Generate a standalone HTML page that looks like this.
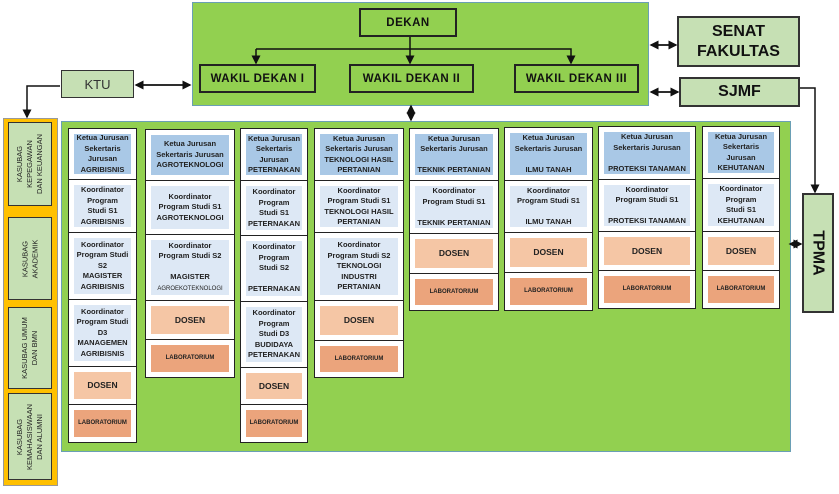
<!DOCTYPE html>
<html><head><meta charset="utf-8"><style>
*{margin:0;padding:0;box-sizing:border-box}
body{width:839px;height:494px;background:#fff;position:relative;overflow:hidden;font-family:"Liberation Sans",sans-serif}
div{position:absolute}
.g{background:#92d050;border:1px solid #6a9fb5}
.lg{background:#c6e0b4;border:2px solid #333}
.bx{border:2px solid #222;background:#92d050;font-weight:bold;font-size:11.5px;letter-spacing:.5px;display:flex;align-items:center;justify-content:center;color:#111}
.c{background:#fff;border:1.5px solid #222}
.in{position:absolute;left:5px;right:5px;top:5px;bottom:5px;display:flex;align-items:center;justify-content:center;text-align:center;font-size:7.5px;line-height:10.5px;color:#222;font-weight:bold}
.in p{white-space:nowrap}
.k{background:#a9c8e6}.p{background:#dde8f5}.d{background:#f5c6a5;font-size:8.5px}.l{background:#eba47c;font-size:6px}
.ks{background:#c6e0b4;border:1.5px solid #333;display:flex;align-items:center;justify-content:center}
.ks span{transform:rotate(-90deg);white-space:nowrap;font-size:7.5px;text-align:center;line-height:10px;color:#222}
</style></head><body>
<div class="g" style="left:192px;top:2px;width:457px;height:104px"></div>
<div class="bx" style="left:359px;top:8px;width:98px;height:29px">DEKAN</div>
<div class="bx" style="left:199px;top:64px;width:117px;height:29px">WAKIL DEKAN I</div>
<div class="bx" style="left:349px;top:64px;width:125px;height:29px">WAKIL DEKAN II</div>
<div class="bx" style="left:514px;top:64px;width:125px;height:29px">WAKIL DEKAN III</div>
<div class="lg" style="left:677px;top:16px;width:123px;height:51px;display:flex;align-items:center;justify-content:center;text-align:center;font-weight:bold;font-size:16px;line-height:20px;color:#111">SENAT<br>FAKULTAS</div>
<div class="lg" style="left:679px;top:77px;width:121px;height:30px;display:flex;align-items:center;justify-content:center;font-weight:bold;font-size:16px;color:#111">SJMF</div>
<div class="lg" style="left:61px;top:70px;width:73px;height:28px;display:flex;align-items:center;justify-content:center;font-size:13px;color:#333;border-width:1.5px">KTU</div>
<div class="lg" style="left:802px;top:193px;width:32px;height:120px;display:flex;align-items:center;justify-content:center"><span style="transform:rotate(90deg);font-weight:bold;font-size:16px;white-space:nowrap;color:#111">TPMA</span></div>
<div style="left:3px;top:118px;width:55px;height:368px;background:#ffc000;border:1px solid #999"></div>
<div class="ks" style="left:8px;top:122px;width:44px;height:84px"><span>KASUBAG<br>KEPEGAWAN<br>DAN KEUANGAN</span></div>
<div class="ks" style="left:8px;top:217px;width:44px;height:83px"><span>KASUBAG<br>AKADEMIK</span></div>
<div class="ks" style="left:8px;top:307px;width:44px;height:82px"><span>KASUBAG UMUM<br>DAN BMN</span></div>
<div class="ks" style="left:8px;top:393px;width:44px;height:87px"><span>KASUBAG<br>KEMAHASISWAAN<br>DAN ALUMNI</span></div>
<div class="g" style="left:61px;top:121px;width:730px;height:331px"></div>

<!-- col1 -->
<div class="c" style="left:68px;top:128px;width:69px;height:52px"><div class="in k"><p>Ketua Jurusan<br>Sekertaris<br>Jurusan<br>AGRIBISNIS</p></div></div>
<div class="c" style="left:68px;top:179px;width:69px;height:54px"><div class="in p"><p>Koordinator<br>Program<br>Studi S1<br>AGRIBISNIS</p></div></div>
<div class="c" style="left:68px;top:232px;width:69px;height:68px"><div class="in p"><p>Koordinator<br>Program Studi<br>S2<br>MAGISTER<br>AGRIBISNIS</p></div></div>
<div class="c" style="left:68px;top:299px;width:69px;height:68px"><div class="in p"><p>Koordinator<br>Program Studi<br>D3<br>MANAGEMEN<br>AGRIBISNIS</p></div></div>
<div class="c" style="left:68px;top:366px;width:69px;height:39px"><div class="in d"><p>DOSEN</p></div></div>
<div class="c" style="left:68px;top:404px;width:69px;height:39px"><div class="in l"><p>LABORATORIUM</p></div></div>
<!-- col2 -->
<div class="c" style="left:145px;top:129px;width:90px;height:52px"><div class="in k"><p>Ketua Jurusan<br>Sekertaris Jurusan<br>AGROTEKNOLOGI</p></div></div>
<div class="c" style="left:145px;top:180px;width:90px;height:55px"><div class="in p"><p>Koordinator<br>Program Studi S1<br>AGROTEKNOLOGI</p></div></div>
<div class="c" style="left:145px;top:234px;width:90px;height:67px"><div class="in p"><p>Koordinator<br>Program Studi S2<br><br>MAGISTER<br><span style="font-weight:normal;font-size:6px">AGROEKOTEKNOLOGI</span></p></div></div>
<div class="c" style="left:145px;top:300px;width:90px;height:40px"><div class="in d"><p>DOSEN</p></div></div>
<div class="c" style="left:145px;top:339px;width:90px;height:39px"><div class="in l"><p>LABORATORIUM</p></div></div>
<!-- col3 -->
<div class="c" style="left:240px;top:128px;width:68px;height:53px"><div class="in k"><p>Ketua Jurusan<br>Sekertaris<br>Jurusan<br>PETERNAKAN</p></div></div>
<div class="c" style="left:240px;top:180px;width:68px;height:56px"><div class="in p"><p>Koordinator<br>Program<br>Studi S1<br>PETERNAKAN</p></div></div>
<div class="c" style="left:240px;top:235px;width:68px;height:67px"><div class="in p"><p>Koordinator<br>Program<br>Studi S2<br><br>PETERNAKAN</p></div></div>
<div class="c" style="left:240px;top:301px;width:68px;height:67px"><div class="in p"><p>Koordinator<br>Program<br>Studi D3<br>BUDIDAYA<br>PETERNAKAN</p></div></div>
<div class="c" style="left:240px;top:367px;width:68px;height:38px"><div class="in d"><p>DOSEN</p></div></div>
<div class="c" style="left:240px;top:404px;width:68px;height:39px"><div class="in l"><p>LABORATORIUM</p></div></div>
<!-- col4 -->
<div class="c" style="left:314px;top:128px;width:90px;height:53px"><div class="in k"><p>Ketua Jurusan<br>Sekertaris Jurusan<br>TEKNOLOGI HASIL<br>PERTANIAN</p></div></div>
<div class="c" style="left:314px;top:180px;width:90px;height:53px"><div class="in p"><p>Koordinator<br>Program Studi S1<br>TEKNOLOGI HASIL<br>PERTANIAN</p></div></div>
<div class="c" style="left:314px;top:232px;width:90px;height:69px"><div class="in p"><p>Koordinator<br>Program Studi S2<br>TEKNOLOGI<br>INDUSTRI<br>PERTANIAN</p></div></div>
<div class="c" style="left:314px;top:300px;width:90px;height:41px"><div class="in d"><p>DOSEN</p></div></div>
<div class="c" style="left:314px;top:340px;width:90px;height:38px"><div class="in l"><p>LABORATORIUM</p></div></div>
<!-- col5 -->
<div class="c" style="left:409px;top:128px;width:90px;height:53px"><div class="in k"><p>Ketua Jurusan<br>Sekertaris Jurusan<br><br>TEKNIK PERTANIAN</p></div></div>
<div class="c" style="left:409px;top:180px;width:90px;height:54px"><div class="in p"><p>Koordinator<br>Program Studi S1<br><br>TEKNIK PERTANIAN</p></div></div>
<div class="c" style="left:409px;top:233px;width:90px;height:41px"><div class="in d"><p>DOSEN</p></div></div>
<div class="c" style="left:409px;top:273px;width:90px;height:38px"><div class="in l"><p>LABORATORIUM</p></div></div>
<!-- col6 -->
<div class="c" style="left:504px;top:127px;width:89px;height:54px"><div class="in k"><p>Ketua Jurusan<br>Sekertaris Jurusan<br><br>ILMU TANAH</p></div></div>
<div class="c" style="left:504px;top:180px;width:89px;height:53px"><div class="in p"><p>Koordinator<br>Program Studi S1<br><br>ILMU TANAH</p></div></div>
<div class="c" style="left:504px;top:232px;width:89px;height:41px"><div class="in d"><p>DOSEN</p></div></div>
<div class="c" style="left:504px;top:272px;width:89px;height:39px"><div class="in l"><p>LABORATORIUM</p></div></div>
<!-- col7 -->
<div class="c" style="left:598px;top:126px;width:98px;height:54px"><div class="in k"><p>Ketua Jurusan<br>Sekertaris Jurusan<br><br>PROTEKSI TANAMAN</p></div></div>
<div class="c" style="left:598px;top:179px;width:98px;height:53px"><div class="in p"><p>Koordinator<br>Program Studi S1<br><br>PROTEKSI TANAMAN</p></div></div>
<div class="c" style="left:598px;top:231px;width:98px;height:40px"><div class="in d"><p>DOSEN</p></div></div>
<div class="c" style="left:598px;top:270px;width:98px;height:39px"><div class="in l"><p>LABORATORIUM</p></div></div>
<!-- col8 -->
<div class="c" style="left:702px;top:126px;width:78px;height:53px"><div class="in k"><p>Ketua Jurusan<br>Sekertaris<br>Jurusan<br>KEHUTANAN</p></div></div>
<div class="c" style="left:702px;top:178px;width:78px;height:54px"><div class="in p"><p>Koordinator<br>Program<br>Studi S1<br>KEHUTANAN</p></div></div>
<div class="c" style="left:702px;top:231px;width:78px;height:40px"><div class="in d"><p>DOSEN</p></div></div>
<div class="c" style="left:702px;top:270px;width:78px;height:39px"><div class="in l"><p>LABORATORIUM</p></div></div>

<svg width="839" height="494" style="position:absolute;left:0;top:0;z-index:10">
<defs><marker id="a" markerWidth="6" markerHeight="6" refX="5" refY="3" orient="auto"><path d="M0,0L6,3L0,6z" fill="#111"/></marker></defs>
<g stroke="#111" stroke-width="1.5" fill="none">
<line x1="410" y1="37" x2="410" y2="63" marker-end="url(#a)"/>
<polyline points="256,49 571,49 571,63" marker-end="url(#a)"/>
<line x1="256" y1="49" x2="256" y2="63" marker-end="url(#a)"/>
<line x1="140" y1="85" x2="190" y2="85" marker-end="url(#a)"/>
<line x1="186" y1="85" x2="136" y2="85" marker-end="url(#a)"/>
<polyline points="60,86 27,86 27,117" marker-end="url(#a)"/>
<line x1="655" y1="45" x2="676" y2="45" marker-end="url(#a)"/>
<line x1="670" y1="45" x2="651" y2="45" marker-end="url(#a)"/>
<line x1="655" y1="92" x2="678" y2="92" marker-end="url(#a)"/>
<line x1="672" y1="92" x2="651" y2="92" marker-end="url(#a)"/>
<polyline points="800,88 815,88 815,192" marker-end="url(#a)"/>
<line x1="411" y1="112" x2="411" y2="120" marker-end="url(#a)"/>
<line x1="411" y1="114" x2="411" y2="106" marker-end="url(#a)"/>
<line x1="793" y1="244" x2="801" y2="244" marker-end="url(#a)"/>
<line x1="797" y1="244" x2="790" y2="244" marker-end="url(#a)"/>
</g></svg>
</body></html>
